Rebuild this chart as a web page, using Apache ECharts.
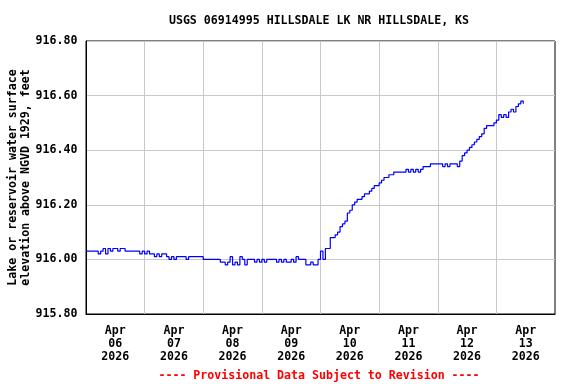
<!DOCTYPE html>
<html>
<head>
<meta charset="utf-8">
<script src="https://cdn.jsdelivr.net/npm/echarts@6/dist/echarts.min.js"></script>
<style>
html,body{margin:0;padding:0;background:#fff;}
#chart{width:576px;height:384px;}
</style>
</head>
<body>
<div id="chart"></div>
<script>
// Hourly readings (ft, NGVD 1929), starting 2026-04-06 00:00
const startTime = Date.UTC(2026, 3, 6, 0, 0, 0);
const stepHours = 1;
const apr06 = [916.03,916.03,916.03,916.03,916.03,916.02,916.03,916.04,916.02,916.04,916.03,916.04,916.04,916.03,916.04,916.04,916.03,916.03,916.03,916.03,916.03,916.03,916.02,916.03];
const apr07 = [916.02,916.03,916.02,916.02,916.01,916.02,916.01,916.02,916.02,916.01,916.00,916.01,916.00,916.01,916.01,916.01,916.01,916.00,916.01,916.01,916.01,916.01,916.01,916.01];
const apr08 = [916.00,916.00,916.00,916.00,916.00,916.00,916.00,915.99,915.99,915.98,915.99,916.01,915.98,915.99,915.98,916.01,916.00,915.98,916.00,916.00,916.00,915.99,916.00,915.99];
const apr09 = [916.00,915.99,916.00,916.00,916.00,916.00,915.99,916.00,915.99,916.00,915.99,915.99,916.00,915.99,916.01,916.00,916.00,916.00,915.98,915.98,915.99,915.98,915.98,916.00];
const apr10 = [916.03,916.00,916.04,916.04,916.08,916.08,916.09,916.10,916.12,916.13,916.14,916.17,916.18,916.20,916.21,916.22,916.22,916.23,916.24,916.24,916.25,916.26,916.27,916.27];
const apr11 = [916.28,916.29,916.30,916.30,916.31,916.31,916.32,916.32,916.32,916.32,916.32,916.33,916.32,916.33,916.32,916.33,916.32,916.33,916.34,916.34,916.34,916.35,916.35,916.35];
const apr12 = [916.35,916.35,916.34,916.35,916.34,916.35,916.35,916.35,916.34,916.36,916.38,916.39,916.40,916.41,916.42,916.43,916.44,916.45,916.46,916.48,916.49,916.49,916.49,916.50];
const apr13 = [916.51,916.53,916.52,916.53,916.52,916.54,916.55,916.54,916.56,916.57,916.58,916.57];

const yTicks = [915.80, 916.00, 916.20, 916.40, 916.60, 916.80];
const months = ['Jan','Feb','Mar','Apr','May','Jun','Jul','Aug','Sep','Oct','Nov','Dec'];
const titleText = 'USGS 06914995 HILLSDALE LK NR HILLSDALE, KS';
const footerText = '---- Provisional Data Subject to Revision ----';
const yName = 'Lake or reservoir water surface\nelevation above NGVD 1929, feet';

const DAY = 86400000, HOUR = 3600000;
const axisStart = startTime;
const axisEnd = startTime + 8 * DAY;

const levels = [].concat(apr06, apr07, apr08, apr09, apr10, apr11, apr12, apr13);
const seriesData = levels.map((v, i) => [startTime + i * stepHours * HOUR, v]);

const font = '"DejaVu Sans Mono", "Liberation Mono", monospace';
const chart = echarts.init(document.getElementById('chart'), null, {renderer: 'canvas'});
chart.setOption({
  animation: false,
  backgroundColor: '#ffffff',
  title: [
    {text: titleText, left: 319, top: 14.5, padding: 0, textAlign: 'center',
     textStyle: {fontFamily: font, fontSize: 11.6, fontWeight: 'bold', color: '#000'}},
    {text: footerText, left: 319, top: 369.5, padding: 0, textAlign: 'center',
     textStyle: {fontFamily: font, fontSize: 11.6, fontWeight: 'bold', color: '#ff0000'}}
  ],
  grid: {left: 86, right: 21, top: 41, bottom: 70, outerBoundsMode: 'none', containLabel: false,
    show: true, borderColor: '#000', borderWidth: 1, backgroundColor: 'transparent'},
  xAxis: [
    {type: 'value', min: axisStart, max: axisEnd, interval: DAY,
     axisLine: {show: true, lineStyle: {color: '#000', width: 1}}, axisTick: {show: false}, axisLabel: {show: false},
     splitLine: {show: true, showMinLine: false, showMaxLine: false, lineStyle: {color: '#c8c8c8', width: 1}}},
    {type: 'value', min: axisStart, max: axisEnd, interval: DAY / 2, position: 'bottom',
     axisLine: {show: false}, axisTick: {show: false}, splitLine: {show: false},
     axisLabel: {show: true, margin: 11, lineHeight: 12.6, color: '#000',
       fontFamily: font, fontSize: 11.6, fontWeight: 'bold', align: 'center',
       showMinLabel: true, showMaxLabel: true,
       formatter: function (v) {
         if ((v - axisStart) % DAY === 0) return '';
         const d = new Date(v);
         const dd = String(d.getUTCDate()).padStart(2, '0');
         return months[d.getUTCMonth()] + '\n' + dd + '\n' + d.getUTCFullYear();
       }}}
  ],
  yAxis: {
    type: 'value', min: yTicks[0], max: yTicks[yTicks.length - 1], interval: 0.2,
    name: yName, nameLocation: 'middle', nameGap: 66.5, nameRotate: 90, nameMoveOverlap: false,
    nameTextStyle: {fontFamily: font, fontSize: 11.6, fontWeight: 'bold', color: '#000',
      lineHeight: 13.3, align: 'center', verticalAlign: 'middle'},
    axisLine: {show: true, lineStyle: {color: '#000', width: 1}}, axisTick: {show: false},
    axisLabel: {margin: 8.5, color: '#000', fontFamily: font, fontSize: 11.6, fontWeight: 'bold',
      formatter: function (v) { return v.toFixed(2); }},
    splitLine: {show: true, lineStyle: {color: '#c8c8c8', width: 1}}
  },
  series: [{
    type: 'line', xAxisIndex: 0, data: seriesData, step: 'end',
    showSymbol: false, symbol: 'none',
    lineStyle: {color: '#0000ff', width: 1.2}
  }]
});
</script>
</body>
</html>
